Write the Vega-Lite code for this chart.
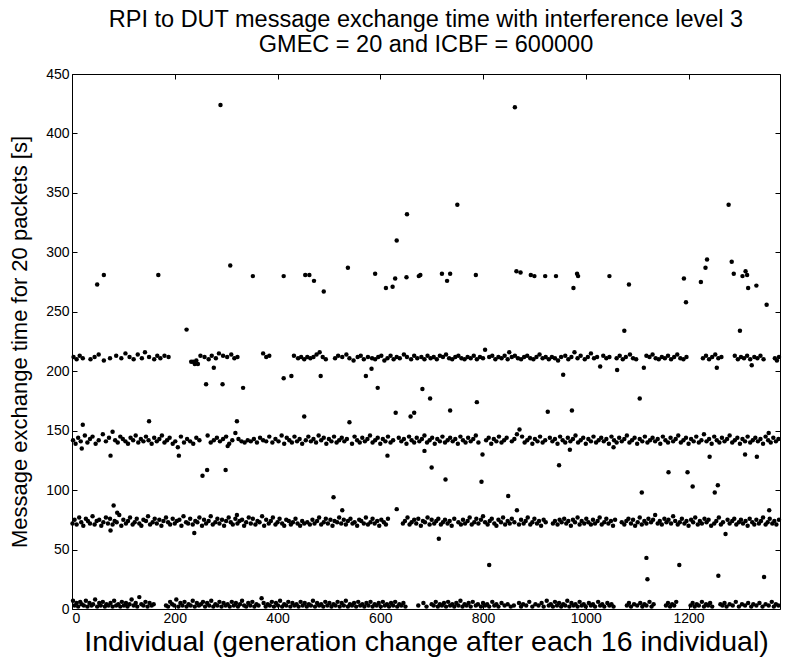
{
"$schema": "https://vega.github.io/schema/vega-lite/v6.json",
"autosize": {"type": "fit", "contains": "padding"},
"width": 792,
"height": 662,
"padding": {"left": 8, "right": 10, "top": 7, "bottom": 6},
"background": "white",
"config": {"font": "Liberation Sans", "view": {"stroke": "black", "strokeWidth": 1}},
"title": {"text": ["RPI to DUT message exchange time with interference level 3", "GMEC = 20 and ICBF = 600000"], "fontSize": 23.5, "fontWeight": "normal", "color": "black", "frame": "group", "anchor": "middle", "offset": 11, "lineHeight": 25},
"resolve": {"axis": {"x": "independent", "y": "independent"}},
"layer": [
{
"data": {"values": [
{"x":2,"y":7},{"x":5,"y":3},{"x":9,"y":5},{"x":12,"y":2},{"x":16,"y":6},{"x":19,"y":4},{"x":23,"y":3},{"x":27,"y":7},{"x":30,"y":2},{"x":34,"y":5},{"x":38,"y":3},{"x":41,"y":4},{"x":45,"y":8},{"x":49,"y":2},{"x":53,"y":5},{"x":56,"y":3},{"x":60,"y":6},{"x":64,"y":2},{"x":67,"y":4},{"x":71,"y":3},{"x":75,"y":5},{"x":79,"y":2},{"x":82,"y":7},{"x":86,"y":3},{"x":90,"y":4},{"x":94,"y":2},{"x":97,"y":6},{"x":101,"y":3},{"x":105,"y":5},{"x":108,"y":2},{"x":112,"y":4},{"x":116,"y":8},{"x":120,"y":3},{"x":124,"y":5},{"x":127,"y":2},{"x":131,"y":10},{"x":135,"y":4},{"x":139,"y":3},{"x":143,"y":6},{"x":147,"y":2},{"x":151,"y":5},{"x":155,"y":3},{"x":159,"y":4},
{"x":183,"y":3},{"x":187,"y":2},{"x":191,"y":6},{"x":195,"y":4},{"x":199,"y":3},{"x":203,"y":8},{"x":207,"y":2},{"x":211,"y":5},{"x":215,"y":3},{"x":219,"y":6},{"x":223,"y":2},{"x":227,"y":4},{"x":231,"y":3},{"x":235,"y":7},{"x":239,"y":2},{"x":243,"y":5},{"x":247,"y":3},{"x":251,"y":4},{"x":255,"y":6},{"x":259,"y":2},{"x":263,"y":5},{"x":267,"y":3},{"x":271,"y":7},{"x":275,"y":2},{"x":279,"y":4},{"x":283,"y":3},{"x":287,"y":6},{"x":291,"y":2},{"x":295,"y":5},{"x":299,"y":3},{"x":303,"y":4},{"x":307,"y":2},{"x":311,"y":6},{"x":315,"y":3},{"x":319,"y":5},{"x":323,"y":2},{"x":327,"y":4},{"x":331,"y":7},{"x":335,"y":3},{"x":339,"y":2},{"x":343,"y":5},{"x":347,"y":3},{"x":351,"y":6},{"x":355,"y":2},{"x":359,"y":4},{"x":363,"y":3},{"x":369,"y":9},{"x":373,"y":5},{"x":377,"y":2},{"x":381,"y":4},{"x":385,"y":3},{"x":389,"y":6},{"x":393,"y":2},{"x":397,"y":5},{"x":401,"y":3},{"x":405,"y":7},{"x":409,"y":2},{"x":413,"y":4},{"x":417,"y":3},{"x":421,"y":6},{"x":425,"y":2},{"x":429,"y":5},{"x":433,"y":3},{"x":437,"y":4},{"x":441,"y":2},{"x":445,"y":6},{"x":449,"y":3},{"x":453,"y":5},{"x":457,"y":2},{"x":461,"y":4},{"x":465,"y":3},{"x":469,"y":7},{"x":473,"y":2},{"x":477,"y":5},{"x":481,"y":3},{"x":485,"y":4},{"x":489,"y":2},{"x":493,"y":6},{"x":497,"y":3},{"x":501,"y":5},{"x":505,"y":2},{"x":509,"y":4},{"x":513,"y":3},{"x":517,"y":6},{"x":521,"y":2},{"x":525,"y":5},{"x":529,"y":3},{"x":533,"y":7},{"x":537,"y":2},{"x":541,"y":4},{"x":545,"y":3},{"x":549,"y":5},{"x":553,"y":2},{"x":557,"y":6},{"x":561,"y":3},{"x":565,"y":4},{"x":569,"y":2},{"x":573,"y":5},{"x":577,"y":3},{"x":581,"y":6},{"x":585,"y":2},{"x":589,"y":4},{"x":593,"y":3},{"x":597,"y":5},{"x":601,"y":2},{"x":605,"y":6},{"x":609,"y":3},{"x":613,"y":4},{"x":617,"y":2},{"x":621,"y":5},{"x":625,"y":3},{"x":629,"y":6},{"x":633,"y":2},{"x":637,"y":4},{"x":641,"y":3},{"x":645,"y":5},{"x":649,"y":2},
{"x":674,"y":3},{"x":684,"y":5},{"x":690,"y":2},{"x":700,"y":4},{"x":704,"y":3},{"x":708,"y":6},{"x":712,"y":2},{"x":716,"y":4},{"x":720,"y":3},{"x":724,"y":5},{"x":728,"y":2},{"x":732,"y":6},{"x":736,"y":3},{"x":740,"y":4},{"x":744,"y":2},{"x":748,"y":5},{"x":752,"y":3},{"x":756,"y":7},{"x":760,"y":2},{"x":764,"y":4},{"x":768,"y":3},{"x":772,"y":5},{"x":776,"y":2},{"x":780,"y":6},{"x":786,"y":3},{"x":790,"y":4},{"x":796,"y":2},{"x":800,"y":5},{"x":804,"y":3},{"x":808,"y":4},{"x":812,"y":2},{"x":818,"y":6},{"x":822,"y":3},{"x":826,"y":4},{"x":830,"y":2},{"x":836,"y":5},{"x":842,"y":3},{"x":848,"y":4},{"x":854,"y":2},{"x":860,"y":3},{"x":870,"y":5},{"x":874,"y":2},{"x":878,"y":4},{"x":884,"y":3},{"x":890,"y":6},{"x":896,"y":2},{"x":902,"y":4},{"x":908,"y":3},{"x":914,"y":5},{"x":918,"y":2},{"x":924,"y":7},{"x":928,"y":3},{"x":932,"y":4},{"x":936,"y":2},{"x":940,"y":6},{"x":944,"y":3},{"x":948,"y":5},{"x":952,"y":2},{"x":956,"y":4},{"x":960,"y":3},{"x":964,"y":7},{"x":968,"y":2},{"x":972,"y":5},{"x":976,"y":3},{"x":980,"y":4},{"x":984,"y":2},{"x":988,"y":6},{"x":992,"y":3},{"x":996,"y":4},{"x":1000,"y":2},{"x":1006,"y":5},{"x":1010,"y":3},{"x":1014,"y":4},{"x":1018,"y":2},{"x":1024,"y":6},{"x":1028,"y":3},{"x":1032,"y":4},{"x":1036,"y":2},{"x":1042,"y":5},{"x":1046,"y":3},{"x":1050,"y":4},{"x":1054,"y":2},
{"x":1080,"y":3},{"x":1084,"y":5},{"x":1088,"y":2},{"x":1094,"y":4},{"x":1100,"y":3},{"x":1106,"y":5},{"x":1110,"y":2},{"x":1114,"y":4},{"x":1118,"y":3},{"x":1124,"y":6},{"x":1128,"y":2},{"x":1132,"y":4},{"x":1156,"y":3},{"x":1160,"y":5},{"x":1164,"y":2},{"x":1168,"y":4},{"x":1172,"y":3},{"x":1176,"y":6},{"x":1204,"y":3},{"x":1208,"y":5},{"x":1212,"y":2},{"x":1216,"y":4},{"x":1220,"y":3},{"x":1226,"y":6},{"x":1230,"y":2},{"x":1234,"y":4},{"x":1238,"y":3},{"x":1242,"y":5},{"x":1246,"y":2},{"x":1262,"y":4},{"x":1266,"y":3},{"x":1270,"y":5},{"x":1274,"y":2},{"x":1280,"y":4},{"x":1286,"y":3},{"x":1292,"y":6},{"x":1298,"y":2},{"x":1304,"y":4},{"x":1310,"y":3},{"x":1316,"y":5},{"x":1322,"y":2},{"x":1326,"y":4},{"x":1332,"y":3},{"x":1338,"y":5},{"x":1344,"y":2},{"x":1350,"y":4},{"x":1356,"y":3},{"x":1362,"y":6},{"x":1366,"y":2},{"x":1370,"y":4},{"x":1375,"y":3},
{"x":1,"y":72},{"x":5,"y":75},{"x":9,"y":71},{"x":14,"y":77},{"x":18,"y":73},{"x":22,"y":70},{"x":27,"y":76},{"x":31,"y":74},{"x":35,"y":72},{"x":40,"y":78},{"x":44,"y":71},{"x":48,"y":74},{"x":53,"y":75},{"x":57,"y":70},{"x":61,"y":73},{"x":66,"y":77},{"x":70,"y":72},{"x":74,"y":76},{"x":79,"y":71},{"x":83,"y":74},{"x":87,"y":73},{"x":92,"y":79},{"x":96,"y":70},{"x":100,"y":75},{"x":105,"y":72},{"x":109,"y":74},{"x":113,"y":77},{"x":118,"y":71},{"x":122,"y":73},{"x":126,"y":76},{"x":131,"y":72},{"x":135,"y":70},{"x":139,"y":75},{"x":144,"y":74},{"x":148,"y":78},{"x":152,"y":71},{"x":157,"y":73},{"x":161,"y":76},{"x":165,"y":72},{"x":170,"y":75},{"x":174,"y":70},{"x":178,"y":74},{"x":183,"y":77},{"x":187,"y":73},{"x":191,"y":71},{"x":196,"y":76},{"x":200,"y":72},{"x":204,"y":74},{"x":209,"y":75},{"x":213,"y":70},{"x":217,"y":78},{"x":222,"y":73},{"x":226,"y":72},{"x":230,"y":76},{"x":235,"y":71},{"x":240,"y":74},{"x":244,"y":73},{"x":248,"y":77},{"x":253,"y":70},{"x":257,"y":75},{"x":261,"y":72},{"x":266,"y":74},{"x":270,"y":78},{"x":274,"y":71},{"x":279,"y":73},{"x":283,"y":76},{"x":287,"y":72},{"x":292,"y":75},{"x":296,"y":70},{"x":300,"y":74},{"x":305,"y":77},{"x":309,"y":73},{"x":313,"y":71},{"x":318,"y":76},{"x":322,"y":72},{"x":326,"y":74},{"x":331,"y":75},{"x":335,"y":70},{"x":339,"y":73},{"x":344,"y":77},{"x":348,"y":72},{"x":352,"y":76},{"x":357,"y":71},{"x":361,"y":74},{"x":365,"y":73},{"x":370,"y":78},{"x":374,"y":70},{"x":378,"y":75},{"x":383,"y":72},{"x":387,"y":74},{"x":391,"y":77},{"x":396,"y":71},{"x":400,"y":73},{"x":404,"y":76},{"x":409,"y":72},{"x":413,"y":70},{"x":417,"y":75},{"x":422,"y":74},{"x":426,"y":71},{"x":430,"y":73},{"x":435,"y":76},{"x":439,"y":72},{"x":444,"y":70},{"x":448,"y":74},{"x":452,"y":72},{"x":458,"y":73},{"x":463,"y":71},{"x":468,"y":75},{"x":472,"y":72},{"x":477,"y":74},{"x":481,"y":77},{"x":485,"y":71},{"x":490,"y":73},{"x":494,"y":76},{"x":498,"y":72},{"x":503,"y":75},{"x":507,"y":70},{"x":511,"y":74},{"x":516,"y":73},{"x":520,"y":77},{"x":524,"y":72},{"x":529,"y":75},{"x":533,"y":71},{"x":537,"y":74},{"x":542,"y":76},{"x":546,"y":72},{"x":550,"y":73},{"x":555,"y":70},{"x":559,"y":75},{"x":563,"y":74},{"x":568,"y":72},{"x":572,"y":77},{"x":576,"y":71},{"x":581,"y":73},{"x":585,"y":76},{"x":589,"y":72},{"x":594,"y":74},{"x":598,"y":70},{"x":602,"y":75},{"x":607,"y":73},{"x":611,"y":71},{"x":615,"y":76},{"x":644,"y":72},{"x":648,"y":74},{"x":653,"y":77},{"x":657,"y":71},{"x":661,"y":73},{"x":666,"y":75},{"x":670,"y":72},{"x":674,"y":76},{"x":679,"y":70},{"x":683,"y":74},{"x":687,"y":73},{"x":692,"y":77},{"x":696,"y":71},{"x":700,"y":75},{"x":705,"y":72},{"x":709,"y":74},{"x":713,"y":76},{"x":718,"y":71},{"x":722,"y":73},{"x":726,"y":75},{"x":731,"y":72},{"x":735,"y":74},{"x":739,"y":70},{"x":744,"y":76},{"x":752,"y":73},{"x":757,"y":71},{"x":761,"y":75},{"x":765,"y":72},{"x":770,"y":74},{"x":774,"y":77},{"x":778,"y":71},{"x":783,"y":73},{"x":787,"y":76},{"x":791,"y":72},{"x":796,"y":75},{"x":800,"y":78},{"x":804,"y":73},{"x":809,"y":71},{"x":813,"y":74},{"x":817,"y":76},{"x":822,"y":72},{"x":826,"y":70},{"x":830,"y":75},{"x":835,"y":73},{"x":839,"y":77},{"x":843,"y":71},{"x":848,"y":74},{"x":852,"y":72},{"x":856,"y":76},{"x":861,"y":73},{"x":870,"y":71},{"x":874,"y":75},{"x":879,"y":72},{"x":883,"y":74},{"x":887,"y":77},{"x":892,"y":71},{"x":896,"y":73},{"x":900,"y":76},{"x":905,"y":72},{"x":909,"y":74},{"x":913,"y":70},{"x":918,"y":75},{"x":922,"y":73},{"x":936,"y":72},{"x":940,"y":74},{"x":945,"y":71},{"x":949,"y":75},{"x":953,"y":73},{"x":958,"y":76},{"x":962,"y":72},{"x":966,"y":74},{"x":971,"y":70},{"x":975,"y":75},{"x":979,"y":73},{"x":984,"y":77},{"x":988,"y":71},{"x":992,"y":74},{"x":997,"y":72},{"x":1001,"y":76},{"x":1005,"y":73},{"x":1010,"y":71},{"x":1014,"y":75},{"x":1018,"y":72},{"x":1023,"y":74},{"x":1027,"y":77},{"x":1031,"y":71},{"x":1036,"y":73},{"x":1040,"y":76},{"x":1044,"y":72},{"x":1049,"y":74},{"x":1053,"y":70},{"x":1057,"y":75},{"x":1070,"y":73},{"x":1075,"y":71},{"x":1079,"y":74},{"x":1083,"y":76},{"x":1088,"y":72},{"x":1092,"y":75},{"x":1096,"y":70},{"x":1101,"y":73},{"x":1105,"y":77},{"x":1109,"y":71},{"x":1114,"y":74},{"x":1118,"y":72},{"x":1122,"y":76},{"x":1127,"y":73},{"x":1131,"y":75},{"x":1135,"y":79},{"x":1140,"y":72},{"x":1144,"y":74},{"x":1148,"y":71},{"x":1153,"y":76},{"x":1157,"y":73},{"x":1161,"y":75},{"x":1166,"y":72},{"x":1170,"y":78},{"x":1174,"y":74},{"x":1179,"y":71},{"x":1183,"y":73},{"x":1187,"y":76},{"x":1192,"y":72},{"x":1196,"y":74},{"x":1200,"y":70},{"x":1205,"y":75},{"x":1209,"y":73},{"x":1213,"y":77},{"x":1218,"y":71},{"x":1222,"y":74},{"x":1226,"y":72},{"x":1231,"y":76},{"x":1235,"y":73},{"x":1239,"y":75},{"x":1250,"y":72},{"x":1254,"y":74},{"x":1259,"y":77},{"x":1263,"y":71},{"x":1267,"y":73},{"x":1276,"y":75},{"x":1280,"y":72},{"x":1285,"y":74},{"x":1289,"y":76},{"x":1293,"y":71},{"x":1298,"y":73},{"x":1302,"y":75},{"x":1306,"y":72},{"x":1311,"y":74},{"x":1315,"y":70},{"x":1319,"y":76},{"x":1324,"y":73},{"x":1328,"y":71},{"x":1332,"y":75},{"x":1337,"y":72},{"x":1341,"y":74},{"x":1345,"y":77},{"x":1350,"y":71},{"x":1354,"y":73},{"x":1358,"y":76},{"x":1363,"y":72},{"x":1367,"y":74},{"x":1371,"y":71},{"x":1376,"y":75},
{"x":2,"y":142},{"x":7,"y":139},{"x":12,"y":144},{"x":17,"y":141},{"x":25,"y":146},{"x":30,"y":140},{"x":35,"y":143},{"x":40,"y":145},{"x":46,"y":139},{"x":52,"y":142},{"x":60,"y":147},{"x":66,"y":141},{"x":72,"y":144},{"x":79,"y":149},{"x":84,"y":142},{"x":89,"y":140},{"x":94,"y":145},{"x":99,"y":143},{"x":104,"y":141},{"x":109,"y":139},{"x":114,"y":144},{"x":119,"y":142},{"x":124,"y":146},{"x":129,"y":140},{"x":134,"y":143},{"x":139,"y":141},{"x":144,"y":145},{"x":149,"y":142},{"x":155,"y":139},{"x":160,"y":144},{"x":165,"y":141},{"x":170,"y":143},{"x":175,"y":146},{"x":180,"y":140},{"x":185,"y":142},{"x":190,"y":144},{"x":196,"y":139},{"x":201,"y":141},{"x":206,"y":136},{"x":212,"y":145},{"x":218,"y":140},{"x":224,"y":143},{"x":230,"y":141},{"x":236,"y":139},{"x":242,"y":144},{"x":248,"y":142},{"x":264,"y":146},{"x":270,"y":140},{"x":276,"y":142},{"x":282,"y":144},{"x":288,"y":141},{"x":294,"y":143},{"x":300,"y":145},{"x":306,"y":139},{"x":312,"y":142},{"x":318,"y":148},{"x":324,"y":143},{"x":330,"y":141},{"x":336,"y":140},{"x":342,"y":142},{"x":348,"y":141},{"x":354,"y":143},{"x":360,"y":140},{"x":366,"y":144},{"x":372,"y":142},{"x":378,"y":141},{"x":384,"y":145},{"x":390,"y":140},{"x":396,"y":143},{"x":402,"y":141},{"x":408,"y":146},{"x":413,"y":139},{"x":418,"y":144},{"x":423,"y":142},{"x":428,"y":140},{"x":433,"y":145},{"x":438,"y":141},{"x":443,"y":143},{"x":448,"y":139},{"x":455,"y":142},{"x":460,"y":145},{"x":465,"y":141},{"x":470,"y":143},{"x":475,"y":140},{"x":480,"y":146},{"x":485,"y":142},{"x":490,"y":144},{"x":495,"y":139},{"x":500,"y":143},{"x":505,"y":141},{"x":510,"y":145},{"x":515,"y":140},{"x":520,"y":142},{"x":525,"y":144},{"x":530,"y":141},{"x":535,"y":143},{"x":545,"y":139},{"x":550,"y":145},{"x":555,"y":142},{"x":560,"y":140},{"x":565,"y":144},{"x":570,"y":141},{"x":575,"y":143},{"x":580,"y":146},{"x":585,"y":140},{"x":590,"y":142},{"x":595,"y":144},{"x":600,"y":139},{"x":605,"y":143},{"x":610,"y":141},{"x":615,"y":145},{"x":620,"y":140},{"x":625,"y":142},{"x":636,"y":144},{"x":641,"y":141},{"x":646,"y":143},{"x":651,"y":139},{"x":656,"y":145},{"x":661,"y":142},{"x":666,"y":140},{"x":671,"y":144},{"x":676,"y":141},{"x":681,"y":143},{"x":686,"y":146},{"x":691,"y":140},{"x":696,"y":142},{"x":701,"y":144},{"x":706,"y":139},{"x":711,"y":143},{"x":716,"y":141},{"x":721,"y":145},{"x":726,"y":140},{"x":731,"y":142},{"x":736,"y":144},{"x":741,"y":141},{"x":746,"y":143},{"x":751,"y":139},{"x":756,"y":145},{"x":761,"y":142},{"x":766,"y":140},{"x":771,"y":144},{"x":776,"y":141},{"x":781,"y":143},{"x":786,"y":146},{"x":791,"y":140},{"x":806,"y":142},{"x":811,"y":144},{"x":816,"y":139},{"x":821,"y":143},{"x":826,"y":141},{"x":831,"y":145},{"x":836,"y":140},{"x":841,"y":142},{"x":846,"y":144},{"x":856,"y":141},{"x":861,"y":143},{"x":866,"y":147},{"x":871,"y":151},{"x":876,"y":145},{"x":881,"y":140},{"x":886,"y":142},{"x":891,"y":144},{"x":896,"y":139},{"x":901,"y":143},{"x":906,"y":141},{"x":911,"y":145},{"x":916,"y":140},{"x":921,"y":142},{"x":930,"y":144},{"x":935,"y":141},{"x":940,"y":143},{"x":945,"y":139},{"x":950,"y":145},{"x":955,"y":142},{"x":960,"y":140},{"x":965,"y":144},{"x":970,"y":141},{"x":975,"y":143},{"x":980,"y":146},{"x":985,"y":140},{"x":990,"y":142},{"x":995,"y":144},{"x":1000,"y":139},{"x":1005,"y":143},{"x":1010,"y":141},{"x":1015,"y":145},{"x":1020,"y":140},{"x":1025,"y":142},{"x":1030,"y":144},{"x":1035,"y":141},{"x":1040,"y":143},{"x":1045,"y":139},{"x":1050,"y":145},{"x":1055,"y":142},{"x":1060,"y":140},{"x":1065,"y":144},{"x":1070,"y":141},{"x":1075,"y":143},{"x":1080,"y":146},{"x":1085,"y":140},{"x":1090,"y":142},{"x":1095,"y":144},{"x":1100,"y":139},{"x":1105,"y":143},{"x":1110,"y":141},{"x":1115,"y":145},{"x":1120,"y":140},{"x":1125,"y":142},{"x":1130,"y":144},{"x":1135,"y":141},{"x":1140,"y":143},{"x":1145,"y":139},{"x":1150,"y":145},{"x":1155,"y":142},{"x":1160,"y":140},{"x":1165,"y":144},{"x":1170,"y":141},{"x":1175,"y":143},{"x":1180,"y":146},{"x":1185,"y":140},{"x":1190,"y":142},{"x":1195,"y":144},{"x":1200,"y":139},{"x":1205,"y":143},{"x":1210,"y":141},{"x":1215,"y":145},{"x":1220,"y":140},{"x":1225,"y":142},{"x":1230,"y":147},{"x":1235,"y":141},{"x":1240,"y":143},{"x":1245,"y":139},{"x":1250,"y":145},{"x":1255,"y":142},{"x":1260,"y":140},{"x":1265,"y":144},{"x":1270,"y":141},{"x":1275,"y":143},{"x":1280,"y":146},{"x":1285,"y":140},{"x":1290,"y":142},{"x":1295,"y":144},{"x":1300,"y":139},{"x":1305,"y":143},{"x":1310,"y":141},{"x":1315,"y":145},{"x":1320,"y":140},{"x":1325,"y":142},{"x":1330,"y":144},{"x":1335,"y":141},{"x":1340,"y":143},{"x":1345,"y":139},{"x":1350,"y":145},{"x":1355,"y":142},{"x":1360,"y":140},{"x":1365,"y":144},{"x":1370,"y":141},{"x":1375,"y":143},
{"x":3,"y":212},{"x":9,"y":210},{"x":15,"y":213},{"x":21,"y":211},{"x":36,"y":210},{"x":44,"y":212},{"x":52,"y":214},{"x":62,"y":209},{"x":74,"y":211},{"x":86,"y":213},{"x":96,"y":211},{"x":104,"y":215},{"x":112,"y":212},{"x":120,"y":210},{"x":128,"y":214},{"x":136,"y":211},{"x":142,"y":216},{"x":150,"y":212},{"x":160,"y":210},{"x":166,"y":213},{"x":172,"y":211},{"x":180,"y":213},{"x":188,"y":212},{"x":232,"y":208},{"x":236,"y":208},{"x":242,"y":209},{"x":250,"y":213},{"x":258,"y":212},{"x":266,"y":210},{"x":272,"y":213},{"x":280,"y":211},{"x":286,"y":215},{"x":294,"y":213},{"x":302,"y":212},{"x":310,"y":214},{"x":316,"y":211},{"x":322,"y":212},{"x":372,"y":215},{"x":378,"y":212},{"x":384,"y":213},{"x":432,"y":213},{"x":440,"y":211},{"x":446,"y":212},{"x":452,"y":210},{"x":458,"y":212},{"x":464,"y":211},{"x":470,"y":212},{"x":476,"y":214},{"x":482,"y":216},{"x":488,"y":212},{"x":494,"y":210},{"x":512,"y":211},{"x":518,"y":213},{"x":526,"y":212},{"x":534,"y":214},{"x":540,"y":211},{"x":548,"y":209},{"x":556,"y":212},{"x":562,"y":213},{"x":568,"y":210},{"x":576,"y":212},{"x":584,"y":211},{"x":590,"y":210},{"x":596,"y":212},{"x":602,"y":213},{"x":608,"y":209},{"x":614,"y":211},{"x":620,"y":213},{"x":626,"y":210},{"x":632,"y":212},{"x":638,"y":211},{"x":646,"y":214},{"x":652,"y":212},{"x":660,"y":210},{"x":666,"y":213},{"x":672,"y":211},{"x":680,"y":212},{"x":686,"y":210},{"x":692,"y":213},{"x":698,"y":211},{"x":704,"y":212},{"x":710,"y":210},{"x":716,"y":213},{"x":722,"y":212},{"x":728,"y":214},{"x":734,"y":211},{"x":740,"y":210},{"x":746,"y":212},{"x":752,"y":213},{"x":758,"y":211},{"x":764,"y":210},{"x":770,"y":212},{"x":776,"y":211},{"x":782,"y":213},{"x":788,"y":210},{"x":794,"y":212},{"x":800,"y":211},{"x":812,"y":212},{"x":818,"y":213},{"x":824,"y":210},{"x":830,"y":212},{"x":836,"y":211},{"x":842,"y":213},{"x":848,"y":210},{"x":856,"y":212},{"x":862,"y":213},{"x":868,"y":211},{"x":874,"y":210},{"x":880,"y":212},{"x":886,"y":213},{"x":892,"y":211},{"x":898,"y":210},{"x":904,"y":212},{"x":910,"y":214},{"x":916,"y":211},{"x":922,"y":212},{"x":928,"y":210},{"x":934,"y":212},{"x":940,"y":211},{"x":946,"y":209},{"x":952,"y":212},{"x":960,"y":213},{"x":966,"y":210},{"x":972,"y":212},{"x":978,"y":216},{"x":984,"y":211},{"x":990,"y":213},{"x":998,"y":210},{"x":1004,"y":212},{"x":1010,"y":215},{"x":1016,"y":211},{"x":1022,"y":212},{"x":1034,"y":213},{"x":1040,"y":211},{"x":1046,"y":212},{"x":1060,"y":211},{"x":1066,"y":213},{"x":1072,"y":210},{"x":1078,"y":212},{"x":1086,"y":214},{"x":1092,"y":211},{"x":1098,"y":210},{"x":1118,"y":213},{"x":1124,"y":212},{"x":1130,"y":214},{"x":1136,"y":211},{"x":1142,"y":210},{"x":1148,"y":212},{"x":1154,"y":211},{"x":1160,"y":213},{"x":1166,"y":210},{"x":1172,"y":212},{"x":1178,"y":214},{"x":1184,"y":211},{"x":1190,"y":210},{"x":1196,"y":212},{"x":1228,"y":211},{"x":1234,"y":213},{"x":1240,"y":210},{"x":1246,"y":212},{"x":1252,"y":214},{"x":1258,"y":211},{"x":1264,"y":212},{"x":1290,"y":213},{"x":1296,"y":210},{"x":1302,"y":212},{"x":1308,"y":211},{"x":1314,"y":213},{"x":1320,"y":210},{"x":1328,"y":212},{"x":1334,"y":211},{"x":1340,"y":213},{"x":1346,"y":210},{"x":1368,"y":211},{"x":1372,"y":209},{"x":1376,"y":212},
{"x":49,"y":273},{"x":62,"y":281},{"x":168,"y":281},{"x":308,"y":289},{"x":352,"y":280},{"x":412,"y":280},{"x":454,"y":281},{"x":462,"y":281},{"x":471,"y":276},{"x":490,"y":267},{"x":537,"y":287},{"x":590,"y":282},{"x":611,"y":270},{"x":624,"y":271},{"x":629,"y":278},{"x":651,"y":279},{"x":675,"y":280},{"x":678,"y":281},{"x":720,"y":282},{"x":730,"y":276},{"x":736,"y":282},{"x":786,"y":281},{"x":865,"y":284},{"x":873,"y":283},{"x":893,"y":281},{"x":900,"y":280},{"x":921,"y":280},{"x":942,"y":280},{"x":976,"y":270},{"x":983,"y":282},{"x":985,"y":280},{"x":1046,"y":280},{"x":1084,"y":273},{"x":1191,"y":278},{"x":1195,"y":258},{"x":1224,"y":275},{"x":1233,"y":287},{"x":1236,"y":294},{"x":1284,"y":292},{"x":1288,"y":282},{"x":1305,"y":280},{"x":1311,"y":284},{"x":1314,"y":281},{"x":1316,"y":270},{"x":1332,"y":272},{"x":1352,"y":256},
{"x":289,"y":424},{"x":862,"y":422},{"x":750,"y":340},{"x":652,"y":332},{"x":632,"y":310},{"x":1278,"y":340},{"x":223,"y":235},{"x":1075,"y":234},{"x":1300,"y":234},
{"x":261,"y":189},{"x":293,"y":189},{"x":333,"y":186},{"x":412,"y":194},{"x":427,"y":196},{"x":239,"y":206},{"x":245,"y":206},{"x":276,"y":203},{"x":484,"y":196},{"x":572,"y":196},{"x":583,"y":202},{"x":595,"y":186},{"x":682,"y":185},{"x":697,"y":177},{"x":736,"y":167},{"x":788,"y":174},{"x":926,"y":166},{"x":973,"y":167},{"x":956,"y":197},{"x":1028,"y":204},{"x":1061,"y":201},{"x":1105,"y":177},{"x":1113,"y":203},{"x":1255,"y":203},{"x":1323,"y":205},{"x":804,"y":218},{"x":851,"y":216},
{"x":21,"y":155},{"x":150,"y":158},{"x":321,"y":158},{"x":452,"y":162},{"x":540,"y":157},{"x":630,"y":165},{"x":659,"y":162},{"x":666,"y":165},
{"x":75,"y":129},{"x":208,"y":129},{"x":254,"y":112},{"x":263,"y":117},{"x":299,"y":117},{"x":19,"y":135},{"x":303,"y":137},{"x":614,"y":129},{"x":686,"y":133},{"x":700,"y":119},{"x":727,"y":109},{"x":799,"y":130},{"x":797,"y":107},{"x":849,"y":95},{"x":509,"y":94},{"x":948,"y":121},{"x":969,"y":134},{"x":1054,"y":136},{"x":1161,"y":115},{"x":1198,"y":115},{"x":1208,"y":103},{"x":1241,"y":128},{"x":1257,"y":104},{"x":1251,"y":98},{"x":1310,"y":130},{"x":1333,"y":128},{"x":1109,"y":98},{"x":1356,"y":148},
{"x":81,"y":87},{"x":88,"y":81},{"x":526,"y":83},{"x":632,"y":84},{"x":866,"y":83},{"x":1357,"y":83},{"x":321,"y":79},
{"x":75,"y":66},{"x":238,"y":64},{"x":714,"y":59},{"x":1272,"y":63},{"x":1244,"y":70},
{"x":812,"y":37},{"x":1118,"y":43},{"x":1120,"y":25},{"x":1182,"y":37},{"x":1258,"y":28},{"x":1347,"y":27}
]},
"mark": {"type": "point", "filled": true, "shape": "circle", "size": 20, "color": "black", "opacity": 1},
"encoding": {
"x": {"field": "x", "type": "quantitative", "scale": {"domain": [0, 1378], "nice": false, "zero": false}, "axis": {"orient": "bottom", "title": "Individual (generation change after each 16 individual)", "values": [0,200,400,600,800,1000,1200], "format": "d", "grid": false, "domain": false, "tickSize": -5, "tickColor": "black", "labelPadding": 7, "labelFontSize": 14, "labelColor": "black", "titleFontSize": 28.5, "titleFontWeight": "normal", "titleColor": "black", "titlePadding": 2}},
"y": {"field": "y", "type": "quantitative", "scale": {"domain": [0, 450], "nice": false, "zero": false}, "axis": {"orient": "left", "title": "Message exchange time for 20 packets [s]", "values": [0,50,100,150,200,250,300,350,400,450], "format": "d", "grid": false, "domain": false, "tickSize": -5, "tickColor": "black", "labelPadding": 8, "labelFontSize": 14, "labelColor": "black", "titleFontSize": 22, "titleFontWeight": "normal", "titleColor": "black", "titlePadding": 14}}
}
},
{
"data": {"values": [{"x": 0, "y": 0}]},
"mark": {"type": "point", "opacity": 0},
"encoding": {
"x": {"field": "x", "type": "quantitative", "scale": {"domain": [0, 1378], "nice": false, "zero": false}, "axis": {"orient": "top", "title": null, "labels": false, "values": [0,200,400,600,800,1000,1200], "grid": false, "domain": false, "tickSize": -5, "tickColor": "black"}},
"y": {"field": "y", "type": "quantitative", "scale": {"domain": [0, 450], "nice": false, "zero": false}, "axis": {"orient": "right", "title": null, "labels": false, "values": [0,50,100,150,200,250,300,350,400,450], "grid": false, "domain": false, "tickSize": -5, "tickColor": "black"}}
}
}
]
}
